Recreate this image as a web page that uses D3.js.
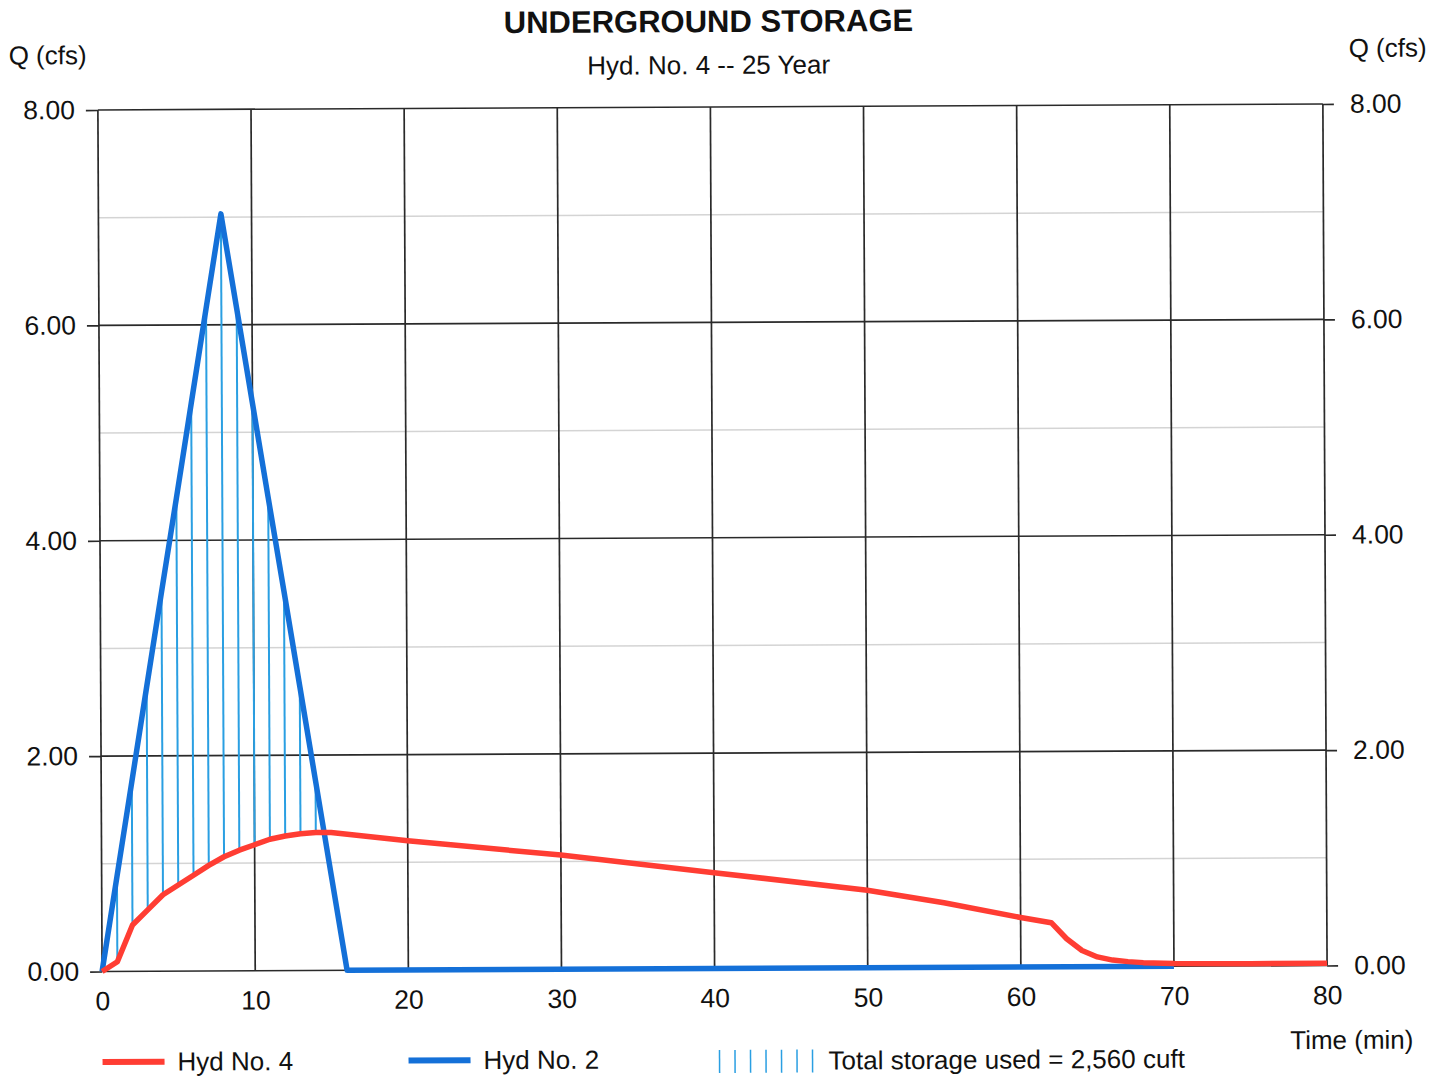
<!DOCTYPE html>
<html>
<head>
<meta charset="utf-8">
<script src="https://cdn.jsdelivr.net/npm/d3@7"></script>
<style>
body { margin: 0; background: #fff; }
text { font-family: Arial, "Liberation Sans", sans-serif; fill: #111; }
</style>
</head>
<body>
<div id="chart"></div>
<script>
// data (time in min, Q in cfs)
var inflowTime = [0, 1, 2, 3, 4, 5, 6, 7, 8, 9, 10, 11, 12, 13, 14, 15, 16, 70];
var inflowQ = [0, 0.88, 1.76, 2.64, 3.52, 4.39, 5.27, 6.15, 7.03, 6.15, 5.27, 4.39, 3.52, 2.64, 1.76, 0.88, 0, 0];

var outflowTime = [0, 1, 2, 3, 4, 5, 6, 7, 8, 9, 10, 11, 12, 13, 14, 15, 20, 30, 40, 50, 55, 60, 62, 63, 64, 65, 66, 67, 68, 70, 75, 80];
var outflowQ = [0, 0.09, 0.43, 0.57, 0.71, 0.80, 0.89, 0.98, 1.06, 1.12, 1.17, 1.22, 1.25, 1.27, 1.28, 1.28, 1.20, 1.06, 0.89, 0.72, 0.60, 0.46, 0.41, 0.26, 0.15, 0.09, 0.06, 0.045, 0.035, 0.025, 0.02, 0.02];

// storage hatch drawn at each minute where inflow > outflow
var hatchTime = [1, 2, 3, 4, 5, 6, 7, 8, 9, 10, 11, 12, 13, 14];

var xTicks = [0, 10, 20, 30, 40, 50, 60, 70, 80];
var yTicks = [0, 2, 4, 6, 8];
var yMinor = [1, 3, 5, 7];

var legendNames = ["Hyd No. 4", "Hyd No. 2"];
var storageText = "Total storage used = 2,560 cuft";

var width = 1447, height = 1078;
var plotL = 100, plotR = 1325, plotT = 107, plotB = 968.5;
var red = "#ff3d33", blue = "#1470d8", hatch = "#2a9fe2";

var root = d3.select("#chart").append("svg").attr("width", width).attr("height", height);
// the scan is tilted a little
var svg = root.append("g").attr("transform", "rotate(-0.28, 712, 540)");

var x = d3.scaleLinear().domain([0, 80]).range([plotL, plotR]);
var y = d3.scaleLinear().domain([0, 8]).range([plotB, plotT]);

// minor gridlines
svg.append("g").selectAll("line").data(yMinor).enter().append("line")
    .attr("x1", plotL).attr("x2", plotR).attr("y1", function (d) { return y(d); }).attr("y2", function (d) { return y(d); })
    .attr("stroke", "#d4d4d4").attr("stroke-width", 1.5);

// major gridlines
svg.append("g").selectAll("line").data(yTicks).enter().append("line")
    .attr("x1", plotL).attr("x2", plotR).attr("y1", function (d) { return y(d); }).attr("y2", function (d) { return y(d); })
    .attr("stroke", "#2a2a2a").attr("stroke-width", 1.7);
svg.append("g").selectAll("line").data(xTicks).enter().append("line")
    .attr("x1", function (d) { return x(d); }).attr("x2", function (d) { return x(d); }).attr("y1", plotT).attr("y2", plotB)
    .attr("stroke", "#2a2a2a").attr("stroke-width", 1.7);

// axes
var yL = svg.append("g").attr("transform", "translate(" + plotL + ",0)")
    .call(d3.axisLeft(y).tickValues(yTicks).tickSize(12).tickPadding(11).tickFormat(d3.format(".2f")));
var yR = svg.append("g").attr("transform", "translate(" + plotR + ",0)")
    .call(d3.axisRight(y).tickValues(yTicks).tickSize(11).tickPadding(16).tickFormat(d3.format(".2f")));
var xA = svg.append("g").attr("transform", "translate(0," + plotB + ")")
    .call(d3.axisBottom(x).tickValues(xTicks).tickSize(0).tickPadding(20).tickFormat(d3.format("d")));
[yL, yR, xA].forEach(function (a) {
    a.select(".domain").remove();
    a.selectAll("line").attr("stroke", "#2a2a2a").attr("stroke-width", 1.7);
    a.selectAll("text").attr("font-size", 26.5).attr("font-family", "Arial, 'Liberation Sans', sans-serif").attr("fill", "#111");
});

// storage hatch
function valueAt(times, vals, t) { return vals[times.indexOf(t)]; }
svg.append("g").selectAll("line").data(hatchTime).enter().append("line")
    .attr("x1", function (t) { return x(t); }).attr("x2", function (t) { return x(t); })
    .attr("y1", function (t) { return y(valueAt(outflowTime, outflowQ, t)); })
    .attr("y2", function (t) { return y(valueAt(inflowTime, inflowQ, t)); })
    .attr("stroke", hatch).attr("stroke-width", 2);

var line = d3.line().x(function (d) { return x(d[0]); }).y(function (d) { return y(d[1]); });

// inflow (blue)
svg.append("path").datum(d3.zip(inflowTime, inflowQ)).attr("d", line)
    .attr("fill", "none").attr("stroke", blue).attr("stroke-width", 5.5).attr("stroke-linejoin", "round");

// outflow (red)
svg.append("path").datum(d3.zip(outflowTime, outflowQ)).attr("d", line)
    .attr("fill", "none").attr("stroke", red).attr("stroke-width", 5.5).attr("stroke-linejoin", "round");

// titles
svg.append("text").attr("x", 711).attr("y", 32).attr("text-anchor", "middle").attr("font-size", 31).attr("font-weight", "bold").text("UNDERGROUND STORAGE");
svg.append("text").attr("x", 711).attr("y", 74).attr("text-anchor", "middle").attr("font-size", 26).text("Hyd. No. 4 -- 25 Year");
svg.append("text").attr("x", 11).attr("y", 61).attr("font-size", 26).text("Q (cfs)");
svg.append("text").attr("x", 1429).attr("y", 60).attr("text-anchor", "end").attr("font-size", 26).text("Q (cfs)");
svg.append("text").attr("x", 1411).attr("y", 1052).attr("text-anchor", "end").attr("font-size", 26).text("Time (min)");

// legend
var lg = svg.append("g");
var legendX = [100, 406];
var legendColor = [red, blue];
legendNames.forEach(function (n, i) {
    lg.append("line").attr("x1", legendX[i]).attr("x2", legendX[i] + 62).attr("y1", 1059).attr("y2", 1059)
        .attr("stroke", legendColor[i]).attr("stroke-width", 6);
    lg.append("text").attr("x", legendX[i] + 75).attr("y", 1068).attr("font-size", 26).text(n);
});
lg.selectAll(".hl").data(d3.range(7)).enter().append("line").attr("class", "hl")
    .attr("x1", function (i) { return 717 + i * 15.5; }).attr("x2", function (i) { return 717 + i * 15.5; })
    .attr("y1", 1050).attr("y2", 1073).attr("stroke", hatch).attr("stroke-width", 1.5);
lg.append("text").attr("x", 826).attr("y", 1070).attr("font-size", 26).text(storageText);
</script>
</body>
</html>
